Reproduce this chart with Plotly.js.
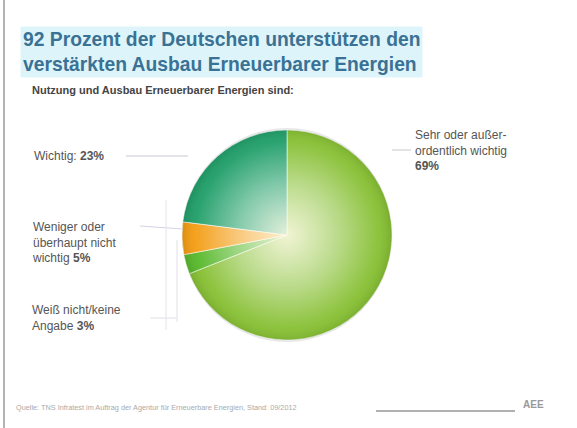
<!DOCTYPE html>
<html><head><meta charset="utf-8">
<script src="https://cdn.plot.ly/plotly-3.0.1.min.js"></script>
<style>html,body{margin:0;padding:0;background:#fff}#c{width:577px;height:428px}</style>
</head><body><div id="c"></div>
<script>
const categories = ["Sehr oder außerordentlich wichtig", "Weiß nicht / keine Angabe", "Weniger oder überhaupt nicht wichtig", "Wichtig"];
const values = [69, 3, 5, 23];
const colors = ["#86bf32", "#56b82a", "#f39c12", "#1f9e68"];
const titleLines = ["92 Prozent der Deutschen unterstützen den", "verstärkten Ausbau Erneuerbarer Energien"];
const subtitle = "Nutzung und Ausbau Erneuerbarer Energien sind:";
const source = "Quelle: TNS Infratest im Auftrag der Agentur für Erneuerbare Energien, Stand: 09/2012";

const W = 577, H = 428;
const px = x => x / W, py = y => 1 - y / H;

const grad = 'data:image/svg+xml;utf8,' + encodeURIComponent(
 '<svg xmlns="http://www.w3.org/2000/svg" width="200" height="200" viewBox="0 0 200 200">' +
 '<defs><radialGradient id="g" cx="50%" cy="50%" r="50%">' +
 '<stop offset="0" stop-color="#fffbe8" stop-opacity="0.88"/>' +
 '<stop offset="0.5" stop-color="#fff" stop-opacity="0.42"/>' +
 '<stop offset="0.88" stop-color="#fff" stop-opacity="0.05"/>' +
 '<stop offset="1" stop-color="#000" stop-opacity="0.1"/>' +
 '</radialGradient></defs><circle cx="100" cy="100" r="100" fill="url(#g)"/></svg>');

const lbl = (i) => values[i] + '%';

const data = [{
  type: 'pie',
  labels: categories,
  values: values,
  sort: false,
  direction: 'clockwise',
  rotation: 0,
  textinfo: 'none',
  hoverinfo: 'label+percent',
  marker: {colors: colors, line: {color: 'rgba(255,255,255,0.55)', width: 1}},
  domain: {x: [px(182), px(392)], y: [py(342), py(128)]},
  showlegend: false
}];

const ff = 'Liberation Sans, Arial, sans-serif';
const tf = {family: ff, size: 12, color: '#555'};
const annotations = [
  {text: '<b>' + titleLines[0] + '</b><br><b>' + titleLines[1] + '</b>', x: px(20), y: py(26), xanchor: 'left', yanchor: 'top', showarrow: false, align: 'left',
   font: {family: ff, size: 19.3, color: '#3a7194'}, bgcolor: '#ddf5fa', borderpad: 2},
  {text: '<b>' + subtitle + '</b>', x: px(30), y: py(82), xanchor: 'left', yanchor: 'top', showarrow: false,
   font: {family: ff, size: 11, color: '#444'}},
  {text: 'Wichtig: <b>' + lbl(3) + '</b>', x: px(32), y: py(156), xanchor: 'left', yanchor: 'middle', showarrow: false, font: tf},
  {text: 'Weniger oder<br>überhaupt nicht<br>wichtig <b>' + lbl(2) + '</b>', x: px(30), y: py(218), xanchor: 'left', yanchor: 'top', showarrow: false, align: 'left', font: tf},
  {text: 'Weiß nicht/keine<br>Angabe <b>' + lbl(1) + '</b>', x: px(30), y: py(301), xanchor: 'left', yanchor: 'top', showarrow: false, align: 'left', font: tf},
  {text: 'Sehr oder außer-<br>ordentlich wichtig<br><b>' + lbl(0) + '</b>', x: px(413), y: py(126), xanchor: 'left', yanchor: 'top', showarrow: false, align: 'left', font: tf},
  {text: source, x: px(14), y: py(407), xanchor: 'left', yanchor: 'middle', showarrow: false, font: {family: ff, size: 7.3, color: '#aaa'}},
  {text: '<b>AEE</b>', x: px(533), y: py(404), xanchor: 'center', yanchor: 'middle', showarrow: false, font: {family: ff, size: 10, color: '#999'}}
];

const ln = (x0, y0, x1, y1, c, w) => ({type: 'line', xref: 'paper', yref: 'paper', x0: px(x0), y0: py(y0), x1: px(x1), y1: py(y1), line: {color: c || '#c8c8d0', width: w || 1}});
const shapes = [
  ln(4, 0, 4, 428, '#9a9a9a', 1.5),
  ln(126, 156, 188, 156),
  ln(392, 150, 411, 150),
  ln(140, 226, 183, 229, '#d8d0e4'),
  ln(166, 200, 166, 330, '#e4e4ec'),
  ln(177, 240, 177, 322, '#e0e0e8'),
  ln(150, 318, 177, 318, '#e0e0e8'),
  ln(376, 411, 515, 411, '#b0b0b0', 2)
];

const layout = {
  width: W, height: H,
  margin: {l: 0, r: 0, t: 0, b: 0},
  paper_bgcolor: '#ffffff',
  showlegend: false,
  annotations: annotations,
  shapes: shapes,
  images: [{source: grad, xref: 'paper', yref: 'paper', x: px(182), y: py(128), sizex: px(392) - px(182), sizey: (342 - 128) / H,
            xanchor: 'left', yanchor: 'top', sizing: 'stretch', layer: 'above'}]
};
Plotly.newPlot('c', data, layout, {displayModeBar: false, staticPlot: true});
</script></body></html>
